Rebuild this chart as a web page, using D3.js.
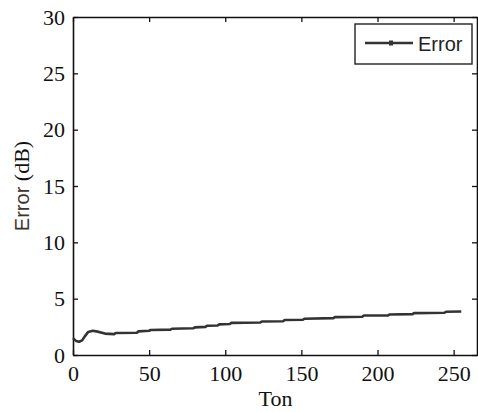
<!DOCTYPE html>
<html>
<head>
<meta charset="utf-8">
<script src="https://cdn.jsdelivr.net/npm/d3@7"></script>
<style>
  html, body { margin: 0; padding: 0; background: #fff; }
  svg { display: block; }
</style>
</head>
<body>
<div id="chart"></div>
<script>
// Error (dB) against Ton
const tonValues = [0, 2, 4, 6, 8, 10, 13, 17, 21, 27, 28, 42, 43, 50, 51, 64, 65, 79, 80, 87, 88,
  95, 96, 103, 104, 123, 124, 138, 139, 151, 152, 171, 172, 190, 191, 207, 208, 223, 224, 244, 245, 255];
const errorValues = [1.5, 1.25, 1.18, 1.3, 1.7, 2.05, 2.15, 2.05, 1.9, 1.85, 1.95, 1.98, 2.1, 2.15, 2.22, 2.25, 2.33, 2.37, 2.45, 2.5, 2.6,
  2.62, 2.72, 2.75, 2.85, 2.88, 2.98, 3.0, 3.1, 3.13, 3.22, 3.27, 3.36, 3.4, 3.5, 3.52, 3.6, 3.63, 3.72, 3.75, 3.84, 3.86];
const xTicks = [0, 50, 100, 150, 200, 250];
const yTicks = [0, 5, 10, 15, 20, 25, 30];
const seriesName = 'Error';

const W = 478, H = 412;
const pLeft = 73, pRight = 478, pTop = 17, pBottom = 355;

const svg = d3.select('#chart').append('svg')
  .attr('width', W).attr('height', H);

const x = d3.scaleLinear().domain([0, 266]).range([pLeft, pRight]);
const y = d3.scaleLinear().domain([0, 30]).range([pBottom, pTop]);

const serif = '"Liberation Serif", "Times New Roman", serif';
const sans = '"Liberation Sans", Arial, sans-serif';

// axes, ticks pointing inward
function styleAxis(sel) {
  sel.select('.domain').attr('stroke', '#111').attr('stroke-width', 1.6);
  sel.selectAll('.tick line').attr('stroke', '#111').attr('stroke-width', 1.3);
  sel.selectAll('.tick text')
    .attr('fill', '#111')
    .style('font-family', serif)
    .style('font-size', '22px');
}

svg.append('g')
  .attr('transform', `translate(0,${pBottom})`)
  .call(d3.axisBottom(x).tickValues(xTicks).tickSizeInner(-5).tickSizeOuter(0).tickPadding(10))
  .call(styleAxis);

svg.append('g')
  .attr('transform', `translate(0,${pTop})`)
  .call(d3.axisTop(x).tickValues(xTicks).tickSizeInner(-5).tickSizeOuter(0).tickFormat(''))
  .call(styleAxis);

svg.append('g')
  .attr('transform', `translate(${pLeft},0)`)
  .call(d3.axisLeft(y).tickValues(yTicks).tickSizeInner(-5).tickSizeOuter(0).tickPadding(8))
  .call(styleAxis);

svg.append('g')
  .attr('transform', `translate(${pRight - 1},0)`)
  .call(d3.axisRight(y).tickValues(yTicks).tickSizeInner(-5).tickSizeOuter(0).tickFormat(''))
  .call(styleAxis);

// data line
const pts = tonValues.map((t, i) => [t, errorValues[i]]);
const line = d3.line().x(d => x(d[0])).y(d => y(d[1]));

svg.append('path')
  .datum(pts)
  .attr('d', line)
  .attr('fill', 'none')
  .attr('stroke', '#333')
  .attr('stroke-width', 2.6)
  .attr('stroke-linejoin', 'round');

// axis titles
svg.append('text')
  .attr('x', (pLeft + pRight) / 2).attr('y', 406)
  .attr('text-anchor', 'middle')
  .attr('fill', '#111')
  .style('font-family', serif)
  .style('font-size', '22px')
  .text('Ton');

const yLab = svg.append('text')
  .attr('transform', `translate(29,${(pTop + pBottom) / 2}) rotate(-90)`)
  .attr('text-anchor', 'middle');
yLab.append('tspan')
  .style('font-family', sans)
  .style('font-size', '20px')
  .attr('fill', '#3b3530')
  .text('Error ');
yLab.append('tspan')
  .style('font-family', serif)
  .style('font-size', '22px')
  .attr('fill', '#111')
  .text('(dB)');

// legend
const lg = svg.append('g');
lg.append('rect')
  .attr('x', 355).attr('y', 24).attr('width', 117).attr('height', 40)
  .attr('fill', '#fff').attr('stroke', '#222').attr('stroke-width', 1.4);
lg.append('line')
  .attr('x1', 365).attr('x2', 413).attr('y1', 43).attr('y2', 43)
  .attr('stroke', '#333').attr('stroke-width', 2.4);
lg.append('rect')
  .attr('x', 389).attr('y', 40.5).attr('width', 4).attr('height', 5)
  .attr('fill', '#333');
lg.append('text')
  .attr('x', 418).attr('y', 51)
  .attr('fill', '#222')
  .style('font-family', sans)
  .style('font-size', '20px')
  .text(seriesName);
</script>
</body>
</html>
